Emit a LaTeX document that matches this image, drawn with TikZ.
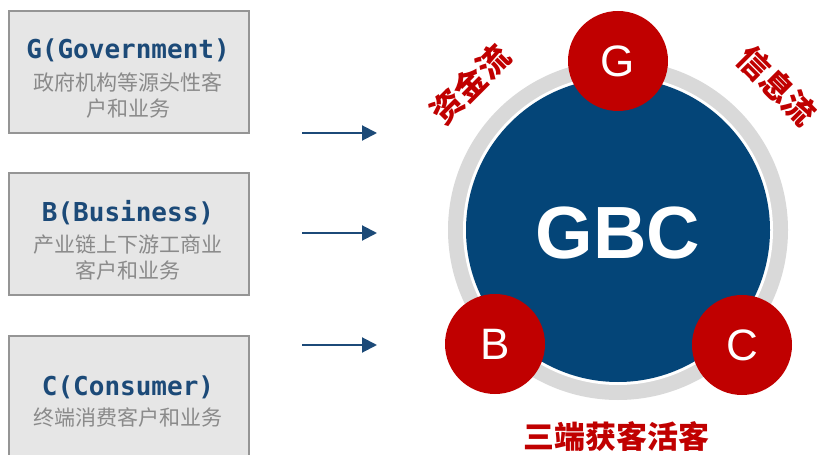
\documentclass[tikz,border=0pt]{standalone}
\usepackage{fontspec}
\setmainfont{Liberation Sans}
\newfontfamily\cjk{Noto Sans CJK SC}
\newfontfamily\monof{DejaVu Sans Mono}
\usetikzlibrary{arrows.meta}
\definecolor{boxfill}{HTML}{E6E6E6}
\definecolor{boxline}{HTML}{959595}
\definecolor{titleblue}{HTML}{1C4A78}
\definecolor{descgray}{HTML}{8A8A8A}
\definecolor{gbcblue}{HTML}{044578}
\definecolor{ringgray}{HTML}{D9D9D9}
\definecolor{redc}{HTML}{C00000}
\tikzset{
  infobox/.style={draw=boxline, line width=2bp, fill=boxfill, minimum width=240bp, minimum height=122bp, inner sep=0pt},
  titletext/.style={text=titleblue, font=\monof\bfseries\fontsize{26bp}{30bp}\selectfont, inner sep=0pt},
  desctext/.style={text=descgray, font=\cjk\fontsize{21bp}{26bp}\selectfont, align=center, inner sep=0pt},
  arr/.style={draw=titleblue, line width=2bp, -{Triangle[length=15bp,width=15bp]}},
  redball/.style={circle, fill=redc, minimum size=100bp, inner sep=0pt, text=white, font=\fontsize{44bp}{44bp}\selectfont},
  flowtext/.style={text=redc, font=\cjk\bfseries\fontsize{32bp}{32bp}\selectfont, inner sep=0pt}
}
\begin{document}
\begin{tikzpicture}[x=1bp,y=-1bp]
\useasboundingbox (0,0) rectangle (817,455);
% left boxes
\node[infobox] (gbox) at (129,72) {};
\node[titletext] (gtitle) at (128,50) {G(Government)};
\node[desctext] (gdesc) at (128,95) {政府机构等源头性客\\户和业务};
\node[infobox] (bbox) at (129,234) {};
\node[titletext] (btitle) at (128,213) {B(Business)};
\node[desctext] (bdesc) at (128,258) {产业链上下游工商业\\客户和业务};
\node[infobox] (cbox) at (129,397) {};
\node[titletext] (ctitle) at (128,387) {C(Consumer)};
\node[desctext] (cdesc) at (128,417) {终端消费客户和业务};
% arrows
\coordinate (a1s) at (302,133); \coordinate (a1e) at (377,133);
\coordinate (a2s) at (302,233); \coordinate (a2e) at (377,233);
\coordinate (a3s) at (302,345); \coordinate (a3e) at (377,345);
\draw[arr] (a1s) -- (a1e);
\draw[arr] (a2s) -- (a2e);
\draw[arr] (a3s) -- (a3e);
% big circle
\node[circle, fill=ringgray, minimum size=340bp, inner sep=0pt] (ring) at (618,230) {};
\node[circle, fill=white, minimum size=310bp, inner sep=0pt] (gap) at (618,230) {};
\node[circle, fill=gbcblue, minimum size=304bp, inner sep=0pt] (core) at (618,230) {};
\node[text=white, font=\bfseries\fontsize{74bp}{74bp}\selectfont, inner sep=0pt] (gbc) at (618,233) {GBC};
% red balls
\node[redball] (g) at (618,61) {G};
\node[redball] (b) at (495,344) {B};
\node[redball] (c) at (742,345) {C};
% flow labels
\node[flowtext, rotate=45] (money) at (470,84) {资金流};
\node[flowtext, rotate=-45] (info) at (777,86) {信息流};
\node[text=redc, font=\cjk\bfseries\fontsize{31bp}{31bp}\selectfont, inner sep=0pt] (slogan) at (616,437) {三端获客活客};
\end{tikzpicture}
\end{document}
